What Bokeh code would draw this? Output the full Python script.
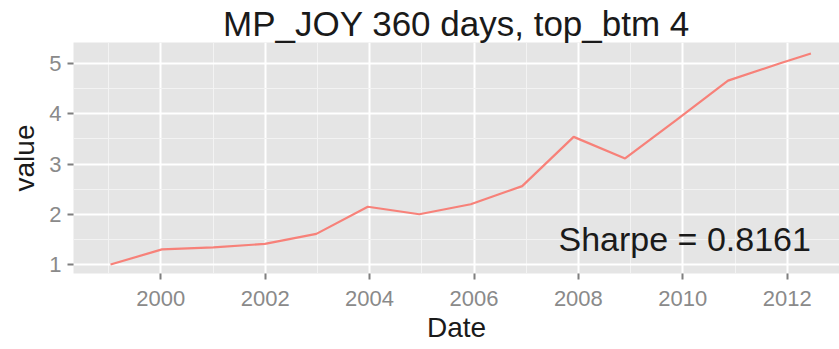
import pandas as pd
from bokeh.plotting import figure
from bokeh.models import FixedTicker, DatetimeTickFormatter, Range1d, Title, Label
from bokeh.embed import file_html
from bokeh.resources import INLINE

# Cumulative value of the strategy, sampled every 360 days
dates = ["1999-01-15", "2000-01-10", "2001-01-04", "2001-12-30", "2002-12-25",
         "2003-12-20", "2004-12-14", "2005-12-09", "2006-12-04", "2007-11-29",
         "2008-11-23", "2009-11-18", "2010-11-13", "2011-11-08", "2012-06-15"]
values = [1.00, 1.30, 1.34, 1.41, 1.61, 2.15, 2.00, 2.20, 2.56, 3.54,
          3.11, 3.88, 4.66, 5.00, 5.20]

title_text = "MP_JOY 360 days, top_btm 4"
sharpe_text = "Sharpe = 0.8161"
x_tick_years = [2000, 2002, 2004, 2006, 2008, 2010, 2012]
x_minor_years = [1999, 2001, 2003, 2005, 2007, 2009, 2011, 2013]
y_ticks = [1, 2, 3, 4, 5]
y_minor = [1.5, 2.5, 3.5, 4.5]
x_limits = ("1998-05-01", "2013-01-01")
y_limits = (0.821, 5.418)

FONT = "Liberation Sans"


def ms(s):
    return pd.Timestamp(s).value / 1e6


x = [pd.Timestamp(d) for d in dates]

p = figure(width=839, height=349, output_backend="svg", toolbar_location=None,
           x_axis_type="datetime",
           x_range=Range1d(ms(x_limits[0]), ms(x_limits[1])),
           y_range=Range1d(*y_limits),
           min_border_left=73, min_border_right=0,
           min_border_top=42, min_border_bottom=76)

p.title = Title(text=title_text, text_font=FONT, text_font_size="35px",
                text_font_style="normal", text_color="#1a1a1a", align="center",
                standoff=0, offset=0)

p.background_fill_color = "#e5e5e5"
p.border_fill_color = "white"
p.outline_line_color = None

xt = FixedTicker(ticks=[ms(f"{y}-01-01") for y in x_tick_years],
                 minor_ticks=[ms(f"{y}-01-01") for y in x_minor_years])
yt = FixedTicker(ticks=y_ticks, minor_ticks=y_minor)
p.xaxis.ticker = xt
p.yaxis.ticker = yt
p.xaxis.formatter = DatetimeTickFormatter(years="%Y", months="%Y", days="%Y")

for g in (p.xgrid, p.ygrid):
    g.grid_line_color = "white"
    g.grid_line_width = 2
    g.minor_grid_line_color = "#f3f3f3"
    g.minor_grid_line_width = 1
p.xgrid.ticker = xt
p.ygrid.ticker = yt

for ax in (p.xaxis, p.yaxis):
    ax.axis_line_color = None
    ax.major_tick_in = 0
    ax.major_tick_out = 6
    ax.minor_tick_in = 0
    ax.minor_tick_out = 0
    ax.major_tick_line_color = "#7f7f7f"
    ax.major_tick_line_width = 2
    ax.major_label_text_font = FONT
    ax.major_label_text_font_size = "22px"
    ax.major_label_text_color = "#8a8a8a"
    ax.axis_label_text_font = FONT
    ax.axis_label_text_font_size = "28px"
    ax.axis_label_text_font_style = "normal"
    ax.axis_label_text_color = "#1a1a1a"

p.xaxis.axis_label = "Date"
p.yaxis.axis_label = "value"
p.xaxis.major_label_standoff = 11
p.yaxis.major_label_standoff = 6
p.xaxis.axis_label_standoff = 3
p.yaxis.axis_label_standoff = 6

p.line(x, values, line_color="#F8766D", line_width=2.2, line_alpha=0.9)

sharpe = Label(x=ms(dates[-1]), y=1.5, text=sharpe_text, text_font=FONT,
               text_font_size="34px", text_color="#1a1a1a",
               text_align="right", text_baseline="middle")
p.add_layout(sharpe)

open("out.html", "w").write(file_html(p, INLINE))
